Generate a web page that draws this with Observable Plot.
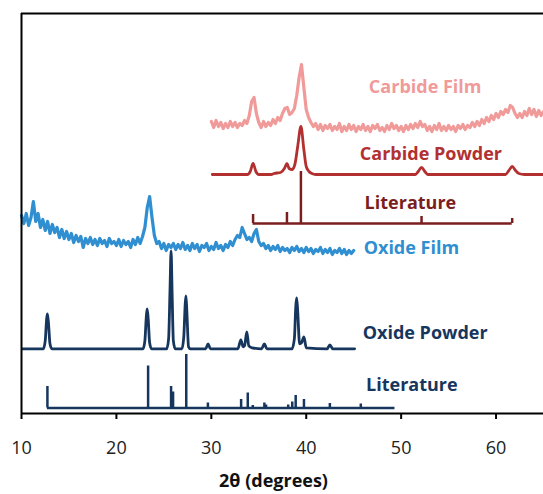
<!DOCTYPE html>
<html><head><meta charset="utf-8">
<script src="https://cdn.jsdelivr.net/npm/d3@7"></script>
<script src="https://cdn.jsdelivr.net/npm/@observablehq/plot@0.6"></script>
<style>body{margin:0;background:#fff;} svg{display:block;}</style>
</head><body><div id="chart"></div>
<script>
// ---- x axis ----
const xTicks = [10, 20, 30, 40, 50, 60];
const xTitle = "2θ (degrees)";

// ---- Oxide film (measured trace, 0.25° grid from 10° to 45°), offset intensity ----
const oxideFilmStart = 10, oxideFilmStep = 0.25;
const oxideFilm = [
198,190,200,188,196,212,192,200,186,194,183,192,180,189,181,186,176,184,175,182,
174,180,171,178,172,177,166,175,170,176,169,174,168,175,170,173,167,175,170,172,
168,174,167,173,169,172,166,174,169,176,170,177,186,206,217,196,178,170,172,165,
170,163,169,166,170,164,169,165,171,164,168,163,170,165,169,162,168,166,170,163,
167,164,171,165,168,163,169,166,172,168,174,178,176,186,180,174,176,172,180,184,
172,168,170,165,168,163,167,164,168,162,166,163,165,161,166,163,167,162,165,161,
166,162,165,160,164,162,166,160,164,161,165,159,163,161,165,160,164,159,163,160,163];

// ---- Carbide film (measured trace, 0.25° grid from 30° to 65°), offset intensity ----
const carbideFilmStart = 30, carbideFilmStep = 0.25;
const carbideFilm = [
292,286,293,287,291,285,290,286,292,287,291,286,290,288,293,290,298,312,316,300,
291,286,292,287,291,288,294,290,296,293,300,305,306,299,301,305,318,336,349,326,
304,296,291,287,290,284,289,283,288,285,289,283,287,284,290,282,287,283,289,284,
288,282,287,284,289,283,287,282,288,285,289,283,286,282,288,284,290,285,288,283,
287,282,288,284,289,285,290,286,292,287,289,283,287,282,288,284,290,283,287,283,
288,284,287,282,288,285,289,284,288,286,291,287,292,288,294,290,296,292,298,294,
300,296,302,299,304,301,308,306,300,296,300,296,302,298,305,299,304,297,303,298,302];

// ---- Oxide powder (smooth pattern), heights above its baseline ----
const oxidePowderBase = 64.7;
const oxidePowderX = [10.1,12.3,12.5,12.65,12.73,12.85,13.0,13.2,22.8,23.0,23.15,23.24,23.35,23.5,23.7,
  25.3,25.5,25.65,25.76,25.87,26.0,26.2,26.9,27.1,27.25,27.33,27.42,27.6,27.8,29.4,29.67,29.9,
  32.8,33.11,33.35,33.5,33.74,33.95,34.3,35.3,35.59,35.85,38.5,38.75,38.9,38.99,39.1,39.3,39.5,39.76,40.0,
  42.2,42.49,42.8,45.1];
const oxidePowderY = [0,0,8,30,35,25,5,0,0,8,32,40,30,6,0,
  0,10,60,98,55,8,0,0,12,45,53,38,2,0,0,5,0,
  0,9,2,3,17,3,1,0,5,0,0,10,42,51,38,5,6,12,1,
  0,4,0,0];

// ---- Carbide powder (smooth pattern), heights above its baseline ----
const carbidePowderBase = 239;
const carbidePowderX = [30.1,33.8,34.1,34.4,34.7,35.0,36.3,36.6,37.3,37.7,37.97,38.2,38.5,38.8,39.1,39.44,39.75,40.0,40.3,40.6,41.0,
  51.5,51.8,52.15,52.5,52.8,61.0,61.35,61.7,62.05,62.4,63.0,65.0];
const carbidePowderY = [0,0,3,11,3,0,0,1,2,6,11,6,5,10,28,48,25,8,3,1,0,
  0,3,7,3,0,0,4,8,4,1,0,0];

// ---- Literature stick patterns ----
const oxideLitBase = 5.5;
const oxideLitRange = [12.73, 49.35];
const oxideLitPos = [12.73,23.34,25.76,25.97,27.36,29.64,33.14,33.84,34.37,35.59,35.77,38.1,38.53,38.89,39.76,42.49,45.75];
const oxideLitInt = [21.5,42,21.5,16,53.5,5,8.5,15,2.5,5,3,3,6,12.5,8.5,4.5,4];

const carbideLitBase = 190;
const carbideLitRange = [34.4, 61.7];
const carbideLitPos = [34.4, 37.97, 39.44, 52.15, 61.7];
const carbideLitInt = [9, 11, 52, 7, 5];

// ---- series labels ----
const labelText = ["Carbide Film", "Carbide Powder", "Literature", "Oxide Film", "Oxide Powder", "Literature"];
const labelX = [46.6, 45.65, 46.15, 46.05, 45.95, 46.3];
const labelY = [326, 259, 210, 165, 80, 28];
const labelColor = ["#F09A9A", "#B23030", "#7B1E1E", "#2F8FD0", "#17365E", "#17365E"];

// ---- build tables ----
const oxideFilmData = oxideFilm.map((v, i) => ({x: oxideFilmStart + i * oxideFilmStep, y: v}));
const carbideFilmData = carbideFilm.map((v, i) => ({x: carbideFilmStart + i * carbideFilmStep, y: v}));
const oxidePowderData = oxidePowderX.map((x, i) => ({x, y: oxidePowderBase + oxidePowderY[i]}));
const carbidePowderData = carbidePowderX.map((x, i) => ({x, y: carbidePowderBase + carbidePowderY[i]}));
const oxideLitData = oxideLitPos.map((x, i) => ({x, h: oxideLitInt[i]}));
const carbideLitData = carbideLitPos.map((x, i) => ({x, h: carbideLitInt[i]}));
const labels = labelText.map((t, i) => ({t, x: labelX[i], y: labelY[i], c: labelColor[i]}));

const navy = "#17365E", darkRed = "#7B1E1E";

const chart = Plot.plot({
  width: 543, height: 494,
  marginLeft: 21, marginRight: 0, marginTop: 13, marginBottom: 81,
  style: {fontFamily: "'Open Sans', sans-serif", fontSize: "18px", color: "#222"},
  x: {domain: [10, 65]},
  y: {domain: [0, 400], axis: null},
  marks: [
    // literature sticks
    Plot.ruleY([oxideLitBase], {x1: oxideLitRange[0], x2: oxideLitRange[1], stroke: navy, strokeWidth: 2.5}),
    Plot.ruleX(oxideLitData, {x: "x", y1: oxideLitBase, y2: d => oxideLitBase + d.h, stroke: navy, strokeWidth: 2.5}),
    Plot.ruleY([carbideLitBase], {x1: carbideLitRange[0], x2: carbideLitRange[1], stroke: darkRed, strokeWidth: 2.5}),
    Plot.ruleX(carbideLitData, {x: "x", y1: carbideLitBase, y2: d => carbideLitBase + d.h, stroke: darkRed, strokeWidth: 2.5}),
    // powder patterns
    Plot.line(oxidePowderData, {x: "x", y: "y", stroke: navy, strokeWidth: 2.8, curve: "monotone-x"}),
    Plot.line(carbidePowderData, {x: "x", y: "y", stroke: "#B23030", strokeWidth: 2.8, curve: "monotone-x"}),
    // film patterns
    Plot.line(oxideFilmData, {x: "x", y: "y", stroke: "#2F8FD0", strokeWidth: 3.2}),
    Plot.line(carbideFilmData, {x: "x", y: "y", stroke: "#F09A9A", strokeWidth: 3.2}),
    // frame
    Plot.ruleY([400], {stroke: "#000", strokeWidth: 2}),
    Plot.ruleX([10], {stroke: "#000", strokeWidth: 2}),
    Plot.ruleY([0], {stroke: "#000", strokeWidth: 2}),
    Plot.axisX({ticks: xTicks, tickSize: 6, tickPadding: 22, strokeWidth: 2, stroke: "#000", fill: "#222", fontSize: 18, label: null, tickFormat: d => String(d)}),
    // labels
    Plot.text(labels, {x: "x", y: "y", text: "t", fill: "c", textAnchor: "start", lineAnchor: "middle", fontSize: 18, fontWeight: "bold"}),
    Plot.text([xTitle], {frameAnchor: "bottom", dx: -9, dy: 68, lineAnchor: "middle", fontSize: 18, fontWeight: "bold", fill: "#111"})
  ]
});
document.getElementById("chart").appendChild(chart);
</script>
</body></html>
